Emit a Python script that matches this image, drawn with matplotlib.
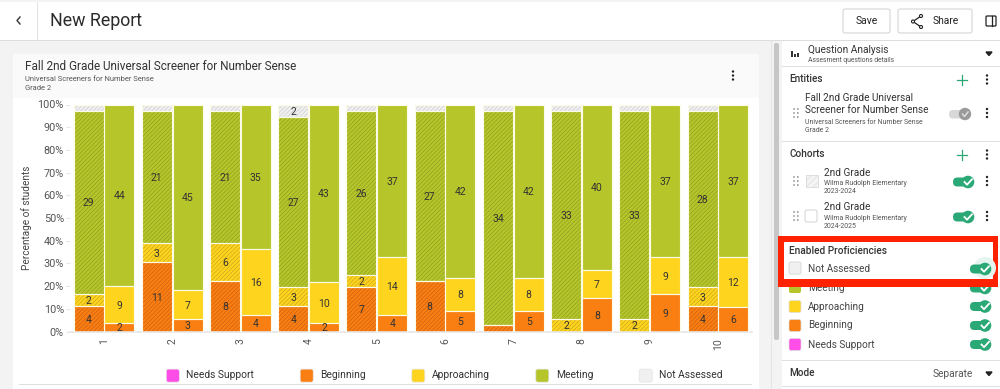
import matplotlib
matplotlib.use("Agg")
import matplotlib.pyplot as plt
import numpy as np
from matplotlib.patches import Rectangle, FancyBboxPatch, Circle, Patch
from matplotlib.legend_handler import HandlerPatch

plt.rcParams['font.family'] = ['Roboto', 'DejaVu Sans']
plt.rcParams['hatch.linewidth'] = 0.5

questions = ['1', '2', '3', '4', '5', '6', '7', '8', '9', '10']
legend_names = ['Needs Support', 'Beginning', 'Approaching', 'Meeting', 'Not Assessed']
y_ticks = [0, 10, 20, 30, 40, 50, 60, 70, 80, 90, 100]

# 2023-2024 cohort (counts of students)
beginning_a = [4, 11, 8, 4, 7, 8, 1, 0, 0, 4]
approaching_a = [2, 3, 6, 3, 2, 0, 0, 2, 2, 3]
meeting_a = [29, 21, 21, 27, 26, 27, 34, 33, 33, 28]
not_assessed_a = [1, 1, 1, 2, 1, 1, 1, 1, 1, 1]
# 2024-2025 cohort
beginning_b = [2, 3, 4, 2, 4, 5, 5, 8, 9, 6]
approaching_b = [9, 7, 16, 10, 14, 8, 8, 7, 9, 12]
meeting_b = [44, 45, 35, 43, 37, 42, 42, 40, 37, 37]

COL = {'Needs Support': '#ff4de8', 'Beginning': '#fa7f12', 'Approaching': '#ffd41f',
       'Meeting': '#b6c62a', 'Not Assessed': '#f0f0f0'}
HATCH = {'Beginning': '#cf5f12', 'Approaching': '#c9a81c', 'Meeting': '#8fa024', 'Not Assessed': '#cfcfcf'}
GREEN = '#2aa876'
W, H = 1000, 389

fig = plt.figure(figsize=(W / 100, H / 100), dpi=100, facecolor='#f3f3f3')

# ---------- application chrome (pixel coordinates) ----------
ui = fig.add_axes([0, 0, 1, 1], zorder=0)
ui.set_xlim(0, W); ui.set_ylim(H, 0); ui.axis('off')

def rect(x0, y0, x1, y1, fc, ec='none', lw=0, z=1):
    ui.add_patch(Rectangle((x0, y0), x1 - x0, y1 - y0, fc=fc, ec=ec, lw=lw, zorder=z))

def rrect(x0, y0, x1, y1, fc, ec='none', lw=0.8, r=2, z=2):
    ui.add_patch(FancyBboxPatch((x0 + r, y0 + r), x1 - x0 - 2 * r, y1 - y0 - 2 * r,
                                boxstyle=f'round,pad={r},rounding_size={r}', fc=fc, ec=ec, lw=lw, zorder=z))

def txt(x, y, s, size, color='#333333', **kw):
    kw.setdefault('va', 'center'); kw.setdefault('ha', 'left')
    ui.text(x, y, s, fontsize=size, color=color, zorder=5, **kw)

def dots(x, y, c='#222222'):
    for d in (-4, 0, 4):
        ui.add_patch(Circle((x, y + d), 1.2, fc=c, ec='none', zorder=5))

def toggle(x, y, col=GREEN, check=True):
    rrect(x - 12, y - 4.5, x + 7, y + 4.5, col, r=4.4, lw=0, z=4)
    ui.add_patch(Circle((x + 3, y), 6.3, fc=col, ec='none', zorder=5))
    ui.plot([x - 0.5, x + 2, x + 7], [y, y + 2.7, y - 2.7], color='white', lw=1.3, zorder=6)

def plus(x, y):
    ui.plot([x - 5, x + 5], [y, y], color=GREEN, lw=0.9, zorder=5)
    ui.plot([x, x], [y - 5, y + 5], color=GREEN, lw=0.9, zorder=5)

def grip(x, y):
    for dx in (0, 3.8):
        for dy in (-4, 0, 4):
            ui.add_patch(Circle((x + dx, y + dy), 0.8, fc='#777777', ec='none', zorder=5))

# top bar
rect(0, 2, W, 40, 'white')
rect(0, 40, W, 41, '#dddddd')
rect(37, 2, 38, 40, '#e2e2e2')
ui.plot([20, 17, 20], [17, 20.5, 24], color='#333333', lw=1, zorder=5)
txt(50, 20.5, 'New Report', 12.8, '#2b2b2b')
rrect(843, 9, 890, 33, 'white', '#d5d5d5')
txt(866.5, 20.5, 'Save', 7.5, '#222222', ha='center')
rrect(898, 9, 972, 33, 'white', '#d5d5d5')
txt(933, 21, 'Share', 7.4, '#222222')
ui.plot([921, 913, 921], [16, 21.5, 27], color='#222222', lw=0.9, zorder=5)
for px, py in ((921, 16), (913, 21.5), (921, 27)):
    ui.add_patch(Circle((px, py), 1.5, fc='white', ec='#222222', lw=0.8, zorder=6))
rrect(986, 16, 996, 26, 'white', '#222222', lw=0.9, r=1)
ui.plot([992, 992], [16, 26], color='#222222', lw=0.9, zorder=5)

# chart card
rect(13, 54, 759, 98, '#fafafa')
rect(13, 98, 759, H, 'white')
rect(19, 384, 752, 385, '#e0e0e0')
txt(25, 66.5, 'Fall 2nd Grade Universal Screener for Number Sense', 8.5, '#333333')
txt(25, 79, 'Universal Screeners for Number Sense', 5.4, '#555555')
txt(25, 88, 'Grade 2', 5.4, '#555555')
dots(733, 75.5)
rect(771, 41, 772, H, '#e4e4e4')
rrect(774, 43, 779, 340, '#c6c6c6', r=2, lw=0)

# side panel
rect(782, 41, W, H, 'white')
for yy in (66, 141):
    rect(782, yy, W, yy + 1, '#e0e0e0')
ui.add_patch(Rectangle((791, 51), 1.6, 6, fc='#333333', zorder=5))
ui.add_patch(Rectangle((794.3, 53.5), 1.6, 3.5, fc='#333333', zorder=5))
ui.add_patch(Rectangle((797, 52.5), 1.6, 4.5, fc='#333333', zorder=5))
txt(808, 49.5, 'Question Analysis', 7.3, '#333333')
txt(808, 60, 'Assesment questions details', 4.9, '#555555')
ui.fill([986, 992, 989], [52, 52, 55.5], color='#222222', zorder=5)

txt(789, 79, 'Entities', 7.2, '#333333', fontweight='medium')
plus(962, 79.5); dots(987, 79.5)
txt(805, 98, 'Fall 2nd Grade Universal', 7.2, '#333333')
txt(805, 110, 'Screener for Number Sense', 7.2, '#333333')
txt(805, 122.5, 'Universal Screeners for Number Sense', 4.95, '#555555')
txt(805, 131, 'Grade 2', 4.95, '#555555')
grip(794, 113); dots(987, 113)
rrect(949, 110, 968, 118.5, '#d8d8d8', r=4, lw=0, z=4)
ui.add_patch(Circle((965, 114), 6.2, fc='#9a9a9a', ec='none', zorder=5))
ui.plot([962.5, 964.5, 968], [114, 116.5, 112], color='#dddddd', lw=1.1, zorder=6)

txt(789, 153.5, 'Cohorts', 7.2, '#333333', fontweight='medium')
plus(962, 154.5); dots(987, 154.5)
txt(824, 172.5, '2nd Grade', 7.2, '#333333')
txt(824, 183, 'Wilma Rudolph Elementary', 4.95, '#555555')
txt(824, 191.5, '2023-2024', 4.95, '#555555')
grip(794, 181); dots(987, 181); toggle(965, 182)
ui.add_patch(Rectangle((806, 175), 12, 12, fc='#f4f4f4', ec='#dddddd', lw=0.7,
                       hatch='/////', zorder=5))
txt(824, 207, '2nd Grade', 7.2, '#333333')
txt(824, 218, 'Wilma Rudolph Elementary', 4.95, '#555555')
txt(824, 226.5, '2024-2025', 4.95, '#555555')
grip(794, 216); dots(987, 216); toggle(965, 217)
rrect(805, 210, 817, 222, 'white', '#d8d8d8', r=2)

rect(782, 287, W, H, 'white')
rect(778, 236, 998, 287, '#ff2200', z=3)
rect(784, 242, 993, 279, 'white', z=3)
txt(789, 251, 'Enabled Proficiencies', 7.3, '#333333', fontweight='medium')
txt(808, 268.5, 'Not Assessed', 7.2, '#444444')
rrect(789, 262, 801, 274, '#f0f0f0', '#dddddd', r=2, z=4)
ui.add_patch(Circle((985, 268), 11, fc='#e5f4ee', ec='none', zorder=4))
toggle(982, 269)
for yy, name in ((306.5, 'Approaching'), (325.5, 'Beginning'), (344.5, 'Needs Support')):
    rrect(789, yy - 6, 801, yy + 6, COL[name], '#dddddd', r=2, lw=0.5)
    txt(808, yy, name, 7.2, '#444444')
    toggle(982, yy)
rrect(789, 282, 801, 293, COL['Meeting'], r=2, lw=0, z=2)
txt(808, 288, 'Meeting', 7.2, '#444444', clip_on=True)
toggle(982, 288)
rect(778, 279, 998, 287, '#ff2200', z=6)
rect(782, 360, W, 361, '#e0e0e0')
txt(789, 372.5, 'Mode', 7.2, '#333333', fontweight='medium')
txt(933, 374, 'Separate', 7.3, '#555555')
ui.fill([986, 992, 989], [372, 372, 375.5], color='#222222', zorder=5)
rect(782, 386, W, 387, '#e0e0e0')

# ---------- chart ----------
ax = fig.add_axes([69.9 / W, 1 - 331.5 / H, 682.1 / W, 227 / H], zorder=2)
ax.patch.set_alpha(0)
ax.set_xlim(-0.5, 9.5); ax.set_ylim(0, 100)
x = np.arange(len(questions))
bw, off = 0.44, 0.2255

def stack(xs, series, hatched):
    arr = np.array([v for _, v in series], dtype=float)
    totals = arr.sum(axis=0)
    bottoms = np.zeros(len(xs))
    for (name, vals), row in zip(series, arr):
        pct = row / totals * 100
        if hatched:
            ax.bar(xs, pct, bw, bottom=bottoms, facecolor=COL[name], edgecolor=HATCH[name],
                   hatch='////////', linewidth=0, zorder=2)
        else:
            ax.bar(xs, pct, bw, bottom=bottoms, color=COL[name], linewidth=0, zorder=2)
        ax.bar(xs, pct, bw, bottom=bottoms, fill=False, edgecolor='#fbfbe8', linewidth=0.8, zorder=3)
        for xi, p, b, v in zip(xs, pct, bottoms, vals):
            if v >= 2:
                ax.annotate(str(v), (xi, b + p / 2), xytext=(0, -0.7), textcoords='offset points',
                            ha='center', va='center', fontsize=7.5, color='#333333', zorder=4)
        bottoms = bottoms + pct

stack(x - off, [('Beginning', beginning_a), ('Approaching', approaching_a),
                ('Meeting', meeting_a), ('Not Assessed', not_assessed_a)], True)
stack(x + off, [('Beginning', beginning_b), ('Approaching', approaching_b),
                ('Meeting', meeting_b)], False)

for s in ('top', 'right', 'left'):
    ax.spines[s].set_visible(False)
ax.spines['bottom'].set_color('#e6e6e6'); ax.spines['bottom'].set_linewidth(1.2)
ax.set_xticks(x, questions, rotation=90, fontsize=7.5, color='#555555')
ax.set_yticks(y_ticks, [f'{v}%' for v in y_ticks], fontsize=7.8, color='#555555')
ax.tick_params(axis='x', length=0, pad=5)
ax.tick_params(axis='y', length=3, width=0.8, color='#e6e6e6', pad=1.3)
ax.set_ylabel('Percentage of students', fontsize=7.2, color='#444444')
ax.yaxis.set_label_coords((32 - 69.9) / 682.1, 0.5)

class RoundHandler(HandlerPatch):
    def create_artists(self, legend, orig, xd, yd, width, height, fontsize, trans):
        p = FancyBboxPatch((1.5, -1.5), width - 3, width - 3,
                           boxstyle='round,pad=1.5,rounding_size=1.5',
                           fc=orig.get_facecolor(), ec='#e2e2e2', lw=0.5, transform=trans)
        return [p]

handles = [Patch(fc=COL[n]) for n in legend_names]
fs = 7.4
pt2px = 100 / 72
em = fs * pt2px
leg = fig.legend(handles, legend_names, ncol=5, loc='center', frameon=False, fontsize=fs,
                 bbox_to_anchor=(444.5 / W, 1 - 374.5 / H), handlelength=13 / em, handleheight=13 / em,
                 handletextpad=7 / em, columnspacing=46 / em, borderpad=0,
                 handler_map={Patch: RoundHandler()}, labelcolor='#333333')
leg.set_zorder(3)

fig.savefig('out.png', dpi=100, facecolor=fig.get_facecolor())
